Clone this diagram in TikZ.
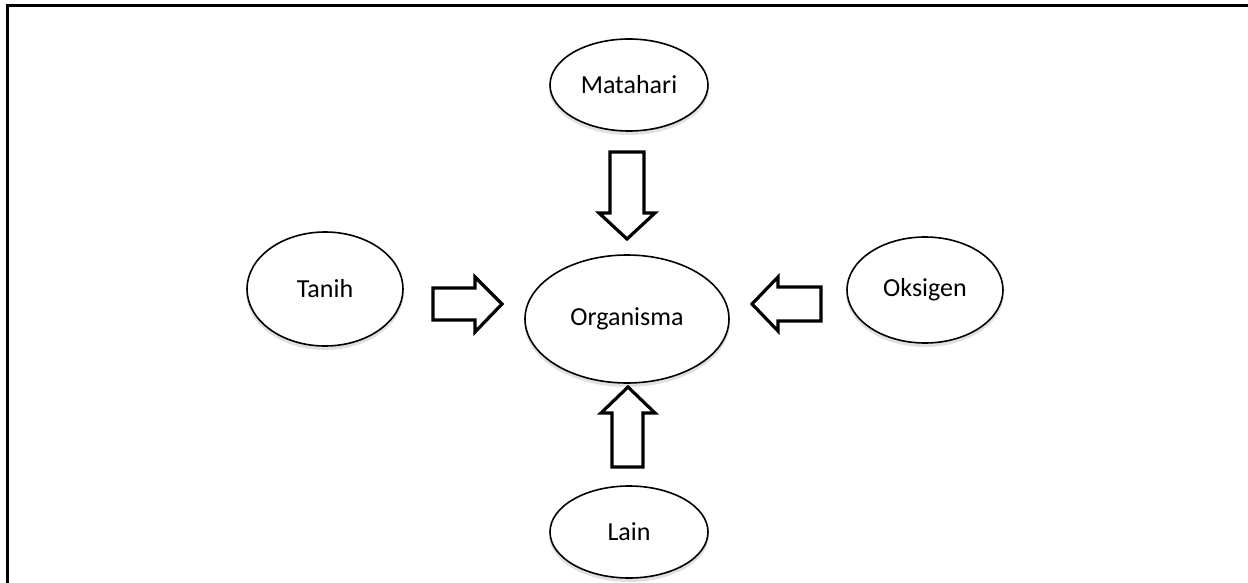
\documentclass[tikz,border=0pt]{standalone}
\usepackage{fontspec}
\setmainfont{Carlito}
\usetikzlibrary{shapes.geometric}
\begin{document}
\begin{tikzpicture}[x=1pt,y=-1pt,
  blob/.style={ellipse,draw=black,line width=1.6pt,fill=white,inner sep=0pt,
    font=\fontsize{26}{31}\selectfont},
  shade/.style={fill=black,opacity=0.12},
  blockarrow/.style={draw=black,line width=3.2pt,fill=white,line join=miter}]
\useasboundingbox (0,0) rectangle (1248,583);
% frame (top and left only)
\draw[line width=2.4pt] (7.5,583) -- (7.5,5.5) -- (1248,5.5);
% shadows
\foreach \cx/\cy/\rx/\ry in {629/85/79/46, 627/319/102/64, 325/289/78/57, 925/290/78/53, 629/532/79/46}{
  \fill[shade] (\cx,\cy+3) ellipse [x radius=\rx+1, y radius=\ry+1];
}
% ellipses
\node[blob,minimum width=158pt,minimum height=92pt] (sun) at (629,85) {Matahari};
\node[blob,minimum width=204pt,minimum height=128pt] (org) at (627,319) {Organisma};
\node[blob,minimum width=156pt,minimum height=114pt] (soil) at (325,289) {Tanih};
\node[blob,minimum width=156pt,minimum height=106pt] (oxy) at (925,290) {Oksigen};
\node[blob,minimum width=158pt,minimum height=92pt] (other) at (629,532) {Lain};
% block arrows
\draw[blockarrow] (610,152) -- (644,152) -- (644,213) -- (655,213) -- (627,239) -- (599,213) -- (610,213) -- cycle;
\draw[blockarrow] (433,288) -- (475,288) -- (475,277) -- (502,304) -- (475,332) -- (475,320) -- (433,320) -- cycle;
\draw[blockarrow] (821,287) -- (778,287) -- (778,277) -- (752,304) -- (778,331) -- (778,321) -- (821,321) -- cycle;
\draw[blockarrow] (612,467) -- (612,413) -- (601,413) -- (628,387) -- (655,413) -- (643,413) -- (643,467) -- cycle;
\end{tikzpicture}
\end{document}
